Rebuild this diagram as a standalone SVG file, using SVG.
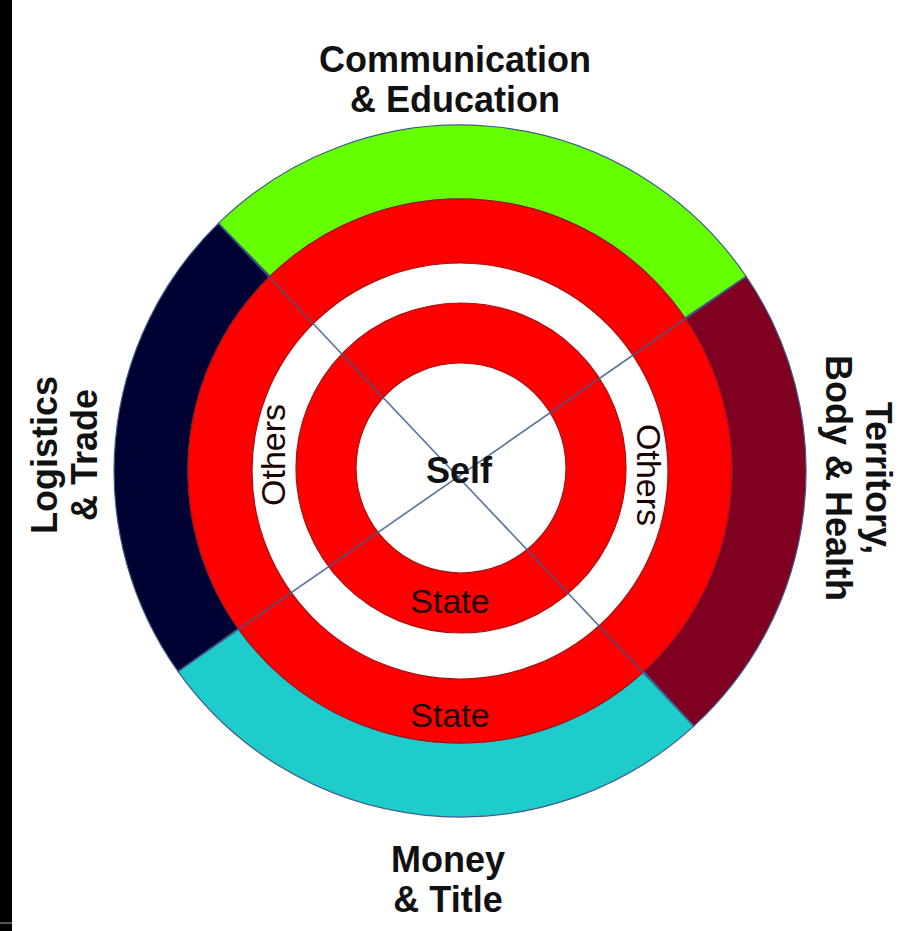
<svg xmlns="http://www.w3.org/2000/svg" width="911" height="931" viewBox="0 0 911 931">
<style>
.lbl{font-family:"Liberation Sans",Arial,sans-serif;font-weight:bold;font-size:36px;fill:#111;text-anchor:middle}
.ring{font-family:"Liberation Sans",Arial,sans-serif;font-size:34px;fill:#1a0000;text-anchor:middle}
.band{stroke:#3b5b8a;stroke-width:1.2}
.red{fill:#ff0000;stroke:#a81010;stroke-width:1.2}
.wht{fill:#ffffff;stroke:#a81010;stroke-width:1.2}
.ln{stroke:#3b5b8a;stroke-width:1.6;stroke-opacity:0.85;fill:none}
</style>
<rect x="0" y="0" width="911" height="931" fill="#ffffff"/>
<rect x="0" y="0" width="12" height="931" fill="#000000"/>
<line x1="0" y1="923" x2="12" y2="923" stroke="#555555" stroke-width="2"/>
<g id="sector-communication">
<path class="band" fill="#66ff00" d="M 218.4 223.4 A 346 346 0 0 1 746.2 276.5 L 685.0 318.1 A 272 272 0 0 0 270.0 276.3 Z"/>
<text class="lbl" x="455" y="72">Communication</text>
<text class="lbl" x="455" y="112">&amp; Education</text>
</g>
<g id="sector-territory">
<path class="band" fill="#800022" d="M 746.2 276.5 A 346 346 0 0 1 693.8 726.1 L 643.8 671.5 A 272 272 0 0 0 685.0 318.1 Z"/>
<g transform="translate(866,478) rotate(90)"><text class="lbl" x="0" y="0">Territory,</text></g>
<g transform="translate(826,478) rotate(90)"><text class="lbl" x="0" y="0">Body &amp; Health</text></g>
</g>
<g id="sector-money">
<path class="band" fill="#1fcccc" d="M 693.8 726.1 A 346 346 0 0 1 178.0 671.4 L 238.3 628.6 A 272 272 0 0 0 643.8 671.5 Z"/>
<text class="lbl" x="448" y="872">Money</text>
<text class="lbl" x="448" y="912">&amp; Title</text>
</g>
<g id="sector-logistics">
<path class="band" fill="#000033" d="M 178.0 671.4 A 346 346 0 0 1 218.4 223.4 L 270.0 276.3 A 272 272 0 0 0 238.3 628.6 Z"/>
<g transform="translate(57,455) rotate(-90)"><text class="lbl" x="0" y="0">Logistics</text></g>
<g transform="translate(97,455) rotate(-90)"><text class="lbl" x="0" y="0">&amp; Trade</text></g>
</g>
<g id="ring-state-outer">
<circle class="red" cx="460" cy="471" r="272"/>
<text class="ring" x="450" y="727">State</text>
</g>
<g id="ring-others">
<circle class="wht" cx="460" cy="471" r="208"/>
<g transform="translate(285,455) rotate(-90)"><text class="ring" x="0" y="0">Others</text></g>
<g transform="translate(637,475) rotate(90)"><text class="ring" x="0" y="0">Others</text></g>
</g>
<g id="ring-state-inner">
<circle class="red" cx="461" cy="468" r="165"/>
<text class="ring" x="450" y="613">State</text>
</g>
<g id="self">
<circle class="wht" cx="461" cy="468" r="105"/>
</g>
<g id="connectors">
<line class="ln" x1="218.4" y1="223.4" x2="693.8" y2="726.1"/>
<line class="ln" x1="746.2" y1="276.5" x2="178.0" y2="671.4"/>
</g>
<text class="lbl" x="459" y="483">Self</text>
</svg>
